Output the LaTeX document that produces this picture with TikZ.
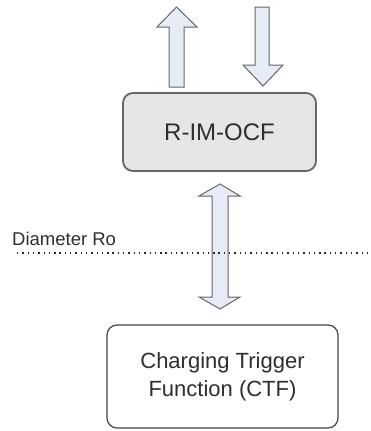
\documentclass[tikz,border=0pt]{standalone}
\usepackage{fontspec}
\setmainfont{Liberation Sans}
\definecolor{boxfill}{HTML}{E6E6E6}
\definecolor{rimline}{HTML}{666666}
\definecolor{ctfline}{HTML}{444444}
\definecolor{arrfill}{HTML}{E6ECF5}
\definecolor{arrline}{HTML}{666666}
\definecolor{txt}{HTML}{2E2E2E}
\begin{document}
\begin{tikzpicture}[x=1pt,y=-1pt,
  rimbox/.style={draw=rimline, line width=1.8pt, fill=boxfill, rounded corners=10pt,
    minimum width=193pt, minimum height=78pt, text=txt, font=\fontsize{24}{28}\selectfont},
  ctfbox/.style={draw=ctfline, line width=1.2pt, fill=white, rounded corners=10pt,
    minimum width=231pt, minimum height=103pt, text=txt, align=center,
    font=\fontsize{22}{28}\selectfont},
  blockarrow/.style={draw=arrline, line width=1pt, fill=arrfill, line join=miter}]
\useasboundingbox (0,0) rectangle (370,431);

% block arrows above
\draw[blockarrow] (169,87) -- (169,27) -- (157,27) -- (176.5,7) -- (197,27) -- (184,27) -- (184,87) -- cycle;
\draw[blockarrow] (255,7) -- (269,7) -- (269,65) -- (283,65) -- (263,86) -- (243,65) -- (255,65) -- cycle;

\node[rimbox] (rim) at (219.5,132) {R-IM-OCF};
\node[ctfbox] (ctf) at (222.5,376.5) {Charging Trigger\\Function (CTF)};

% double arrow
\draw[blockarrow] (220,184) -- (240,196) -- (228,196) -- (228,297) -- (240,297) -- (220,309)
  -- (199,297) -- (212,297) -- (212,196) -- (199,196) -- cycle;

% diameter line
\coordinate (dl) at (17,253);
\coordinate (dr) at (370,253);
\draw[line width=1.4pt, dash pattern=on 1.4pt off 3.9pt, color=black!85] (dl) -- (dr);
\node[anchor=base west, inner sep=0pt, text=txt, font=\fontsize{18.5}{22}\selectfont] (diam) at (12,245) {Diameter Ro};
\end{tikzpicture}
\end{document}
